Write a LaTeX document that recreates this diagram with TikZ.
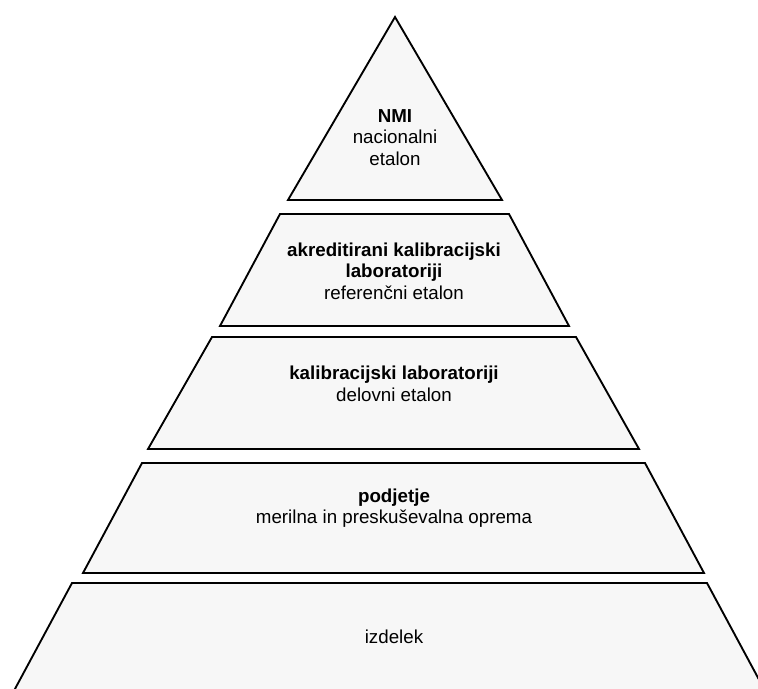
\documentclass[tikz,border=0pt]{standalone}
\usepackage{fontspec}
\setmainfont{Liberation Sans}
\definecolor{LayerFill}{HTML}{F7F7F7}
\tikzset{
  layer/.style={draw=black, line width=1.6pt, fill=LayerFill, line join=miter},
  layertext/.style={align=center, inner sep=0pt, text=black,
                    font=\fontsize{16}{18.5}\selectfont},
}
\begin{document}
\begin{tikzpicture}[x=0.03cm, y=-0.03cm]
  \useasboundingbox (0,0) rectangle (758,688);
  % pyramid, top to bottom; the base runs off the page
  \draw[layer] (395,17) -- (502,200) -- (288,200) -- cycle;
  \draw[layer] (280,214) -- (509,214) -- (569,326) -- (220,326) -- cycle;
  \draw[layer] (212,337) -- (576,337) -- (639,449) -- (148,449) -- cycle;
  \draw[layer] (142,463) -- (645,463) -- (704,573) -- (83,573) -- cycle;
  \draw[layer] (72,583) -- (707,583) -- (770,700) -- (9,700) -- cycle;

  \node[layertext] (nmi) at (395,137.5)
    {\textbf{NMI}\\nacionalni\\etalon};
  \node[layertext] (akred) at (394,271)
    {\textbf{akreditirani kalibracijski}\\\textbf{laboratoriji}\\referenčni etalon};
  \node[layertext] (kalib) at (394,384)
    {\textbf{kalibracijski laboratoriji}\\delovni etalon};
  \node[layertext] (podj) at (394,508)
    {\textbf{podjetje}\\merilna in preskuševalna oprema};
  \node[layertext] (izd) at (394,637) {izdelek};
\end{tikzpicture}
\end{document}
